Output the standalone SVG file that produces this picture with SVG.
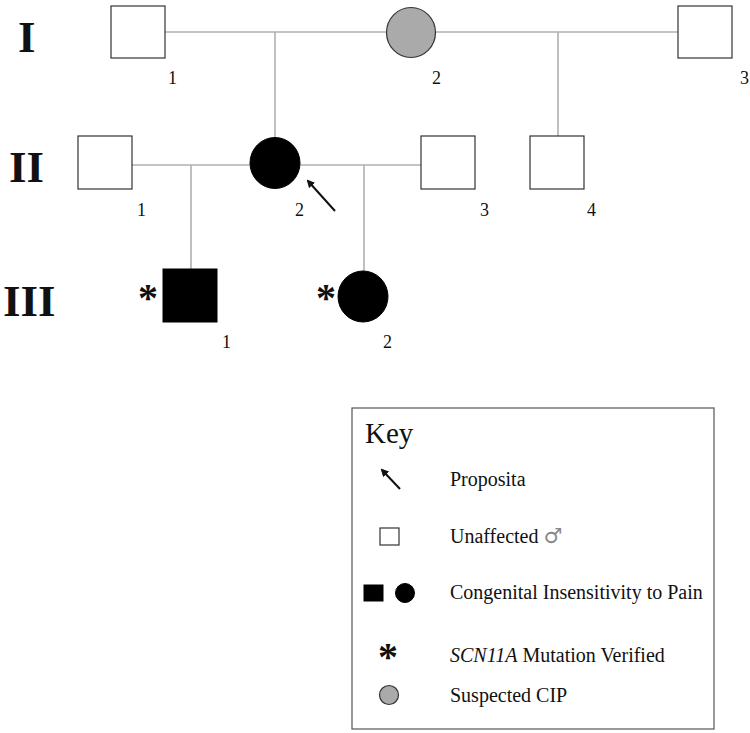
<svg xmlns="http://www.w3.org/2000/svg" width="750" height="733" viewBox="0 0 750 733">
<style>
.sq{fill:#fff;stroke:#333;stroke-width:1.2}
.aff{fill:#000;stroke:#000;stroke-width:1}
.sus{fill:#aaa;stroke:#333;stroke-width:1.2}
.ln{stroke:#b0b0b0;stroke-width:1.6;fill:none}
.num{font-family:"Liberation Serif",serif;font-size:18px;fill:#111}
.gen{font-family:"Liberation Serif",serif;font-size:45px;font-weight:bold;fill:#111}
.key{font-family:"Liberation Serif",serif;font-size:20px;fill:#111}
.ast{font-family:"Liberation Serif",serif;font-size:40px;font-weight:bold;fill:#111}
.arr{stroke:#111;stroke-width:2;fill:none}
</style>
<defs>
<marker id="ah" markerWidth="8" markerHeight="8" refX="6" refY="4" orient="auto" markerUnits="userSpaceOnUse"><path d="M0,0 L8,4 L0,8 z" fill="#111"/></marker>
</defs>
<rect width="750" height="733" fill="#fff"/>
<g id="generations">
<text class="gen" x="18" y="52">I</text>
<text class="gen" x="9" y="182">II</text>
<text class="gen" x="3" y="316">III</text>
</g>
<g id="connectors">
<line class="ln" x1="165" y1="32" x2="387" y2="32"/>
<line class="ln" x1="436" y1="32" x2="678" y2="32"/>
<line class="ln" x1="275" y1="32" x2="275" y2="138"/>
<line class="ln" x1="558" y1="32" x2="558" y2="136"/>
<line class="ln" x1="132" y1="165" x2="250" y2="165"/>
<line class="ln" x1="300" y1="165" x2="421" y2="165"/>
<line class="ln" x1="191" y1="165" x2="191" y2="269"/>
<line class="ln" x1="364" y1="165" x2="364" y2="271"/>
</g>
<g id="I-1"><rect class="sq" x="111" y="6" width="54" height="52"/><text class="num" x="168" y="84">1</text></g>
<g id="I-2"><ellipse class="sus" cx="411" cy="32.5" rx="24.5" ry="25"/><text class="num" x="432" y="84">2</text></g>
<g id="I-3"><rect class="sq" x="678" y="6" width="54" height="52"/><text class="num" x="740" y="84">3</text></g>
<g id="II-1"><rect class="sq" x="78" y="136" width="54" height="53"/><text class="num" x="137" y="216">1</text></g>
<g id="II-2"><ellipse class="aff" cx="275" cy="163" rx="25" ry="25.5"/><text class="num" x="295" y="216">2</text>
<line class="arr" x1="335" y1="211" x2="308" y2="181" marker-end="url(#ah)"/></g>
<g id="II-3"><rect class="sq" x="421" y="136" width="54" height="53"/><text class="num" x="480" y="216">3</text></g>
<g id="II-4"><rect class="sq" x="530" y="136" width="54" height="53"/><text class="num" x="587" y="216">4</text></g>
<g id="III-1"><rect class="aff" x="163" y="269" width="54" height="53"/><text class="ast" x="138" y="311">*</text><text class="num" x="222" y="348">1</text></g>
<g id="III-2"><ellipse class="aff" cx="363" cy="296.5" rx="25" ry="25.5"/><text class="ast" x="316" y="311">*</text><text class="num" x="383" y="348">2</text></g>
<g id="key">
<rect x="352" y="408" width="362" height="321" fill="#fff" stroke="#555" stroke-width="1.2"/>
<text x="365" y="443" font-family="Liberation Serif,serif" font-size="29" fill="#111">Key</text>
<line class="arr" x1="400" y1="489" x2="382" y2="470" marker-end="url(#ah)"/>
<text class="key" x="450" y="486">Proposita</text>
<rect class="sq" x="380" y="528" width="19" height="17"/>
<text class="key" x="450" y="543">Unaffected <tspan fill="#888" font-family="DejaVu Sans,sans-serif" font-size="21">♂</tspan></text>
<rect class="aff" x="364" y="585" width="19" height="16"/>
<circle class="aff" cx="405" cy="593" r="9.5"/>
<text class="key" x="450" y="599">Congenital Insensitivity to Pain</text>
<text class="ast" x="378" y="670">*</text>
<text class="key" x="450" y="662"><tspan font-style="italic">SCN11A</tspan> Mutation Verified</text>
<circle class="sus" cx="389" cy="695" r="9.5"/>
<text class="key" x="450" y="702">Suspected CIP</text>
</g>
</svg>
